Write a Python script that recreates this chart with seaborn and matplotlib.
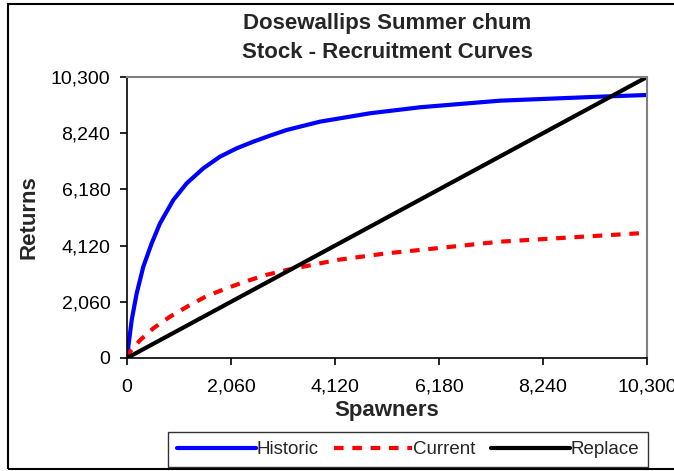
import matplotlib
matplotlib.use("Agg")
import matplotlib.pyplot as plt
import seaborn as sns
import pandas as pd
from matplotlib.ticker import FuncFormatter
from matplotlib.lines import Line2D
from matplotlib.patches import Rectangle

sns.set_theme(style="white")
plt.rcParams['font.family'] = ['Liberation Sans', 'DejaVu Sans']

# Data
historic_x = [0, 26, 93, 192, 323, 489, 654, 917, 1182, 1511, 1842, 2173, 2502, 2832,
              3163, 3823, 4813, 5803, 7388, 9369, 10300]
historic_y = [0, 414, 1393, 2370, 3347, 4204, 4937, 5791, 6402, 6952, 7380, 7686, 7930, 8150,
              8358, 8663, 8970, 9190, 9432, 9579, 9640]
current_x = [0, 59, 257, 521, 852, 1214, 1579, 1975, 2337, 2767, 3163, 4154, 5144, 5803,
             7388, 9369, 10300]
current_y = [0, 231, 650, 1088, 1515, 1906, 2273, 2555, 2799, 3050, 3226, 3592, 3837, 3959,
             4264, 4484, 4590]
replace_x = [0, 10300]
replace_y = [0, 10300]
ticks = [0, 2060, 4120, 6180, 8240, 10300]

fig = plt.figure(figsize=(6.74, 4.71), dpi=100)
ax = fig.add_axes([127/674, 1-358/471, 520/674, 281/471])

df_h = pd.DataFrame({"x": historic_x, "y": historic_y})
df_c = pd.DataFrame({"x": current_x, "y": current_y})
df_r = pd.DataFrame({"x": replace_x, "y": replace_y})

sns.lineplot(data=df_h, x="x", y="y", ax=ax, color="#0000FF", lw=3, sort=False,
             estimator=None, solid_capstyle="round", solid_joinstyle="round")
sns.lineplot(data=df_c, x="x", y="y", ax=ax, color="#FF0000", lw=3, sort=False,
             estimator=None, dashes=False, linestyle=(0, (2.3, 2.1)), dash_capstyle="butt")
sns.lineplot(data=df_r, x="x", y="y", ax=ax, color="#000000", lw=3, sort=False,
             estimator=None, solid_capstyle="round")

ax.set_xlim(0, 10300)
ax.set_ylim(0, 10300)
ax.set_xticks(ticks)
ax.set_yticks(ticks)
fmt = FuncFormatter(lambda v, p: f"{int(round(v)):,}")
ax.xaxis.set_major_formatter(fmt)
ax.yaxis.set_major_formatter(fmt)
ax.tick_params(axis='both', which='major', labelsize=14, length=5, width=1.2,
               direction='out', color='#000000', labelcolor='#000000')
ax.tick_params(axis='x', pad=10)
ax.tick_params(axis='y', pad=7)
ax.xaxis.set_ticks_position('bottom')
ax.yaxis.set_ticks_position('left')

for s in ['top', 'right']:
    ax.spines[s].set_color('#808080')
    ax.spines[s].set_linewidth(1.5)
for s in ['left', 'bottom']:
    ax.spines[s].set_color('#000000')
    ax.spines[s].set_linewidth(1.2)

ax.set_xlabel("Spawners", fontsize=16, fontweight='bold', labelpad=3)
ax.set_ylabel("Returns", fontsize=16, fontweight='bold', labelpad=8)
ax.set_title("Dosewallips Summer chum\nStock - Recruitment Curves",
             fontsize=16, fontweight='bold', pad=14, linespacing=1.45)

handles = [
    Line2D([], [], color="#0000FF", lw=3),
    Line2D([], [], color="#FF0000", lw=3, linestyle=(0, (2.3, 2.1))),
    Line2D([], [], color="#000000", lw=3),
]
leg = fig.legend(handles, ["Historic", "Current", "Replace"], ncol=3,
                 loc='center', bbox_to_anchor=(408/674, 1-449.5/471),
                 fontsize=13.5, frameon=True, fancybox=False, shadow=False,
                 handlelength=4.2, handletextpad=0.05, columnspacing=0.8,
                 borderpad=0.5, borderaxespad=0)
leg.get_frame().set_edgecolor('#000000')
leg.get_frame().set_linewidth(1.0)

# chart-area border
fig.add_artist(Rectangle((8/674, 1-469/471), 700/674, 465/471, transform=fig.transFigure,
                         fill=False, edgecolor='#000000', lw=1.5, clip_on=False))

fig.savefig("out.png", dpi=100)
